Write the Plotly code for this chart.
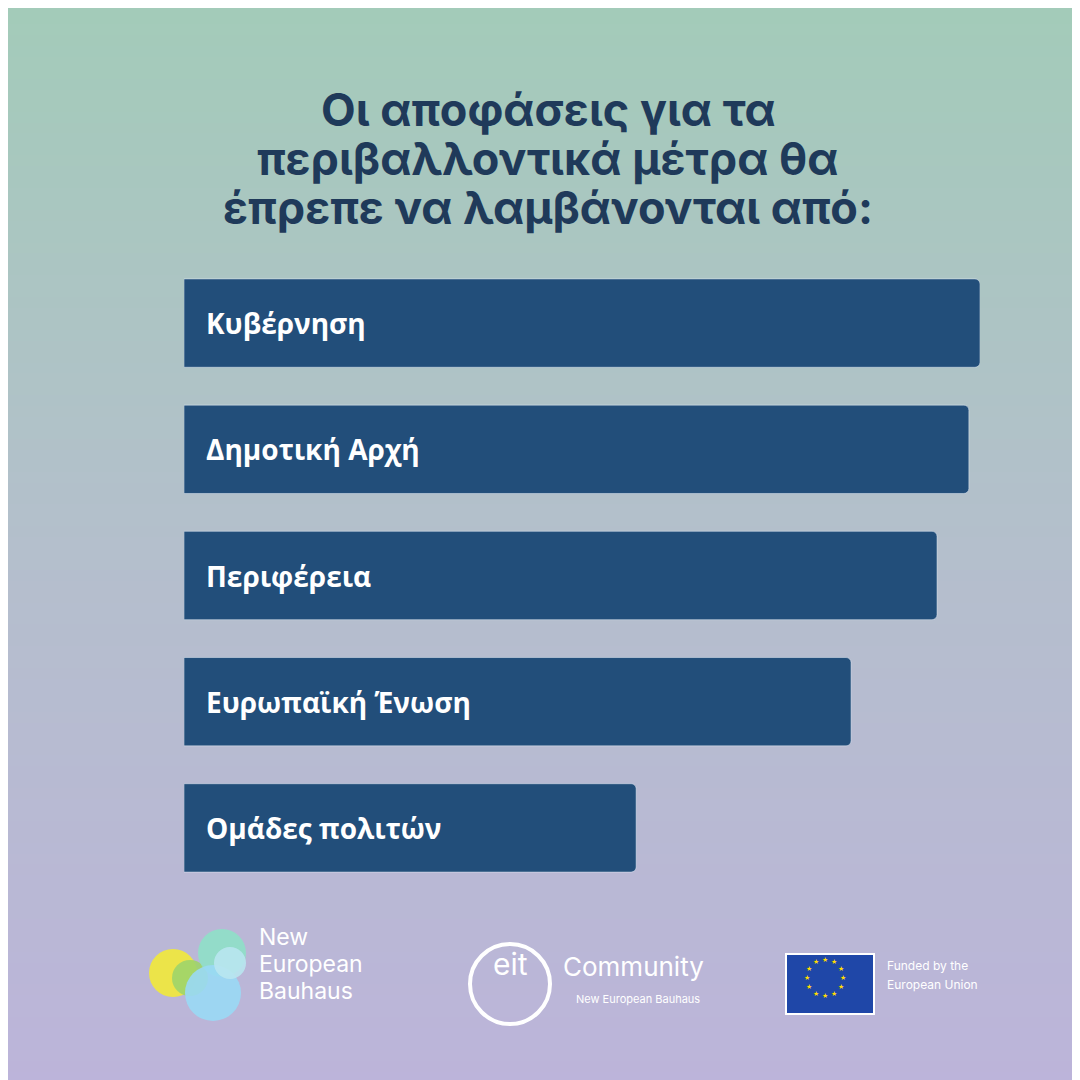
import numpy as np
import plotly.graph_objects as go

categories = ["Κυβέρνηση", "Δημοτική Αρχή", "Περιφέρεια", "Ευρωπαϊκή Ένωση", "Ομάδες πολιτών"]
values = [100, 98.6, 94.6, 83.8, 56.8]
title_lines = ["Οι αποφάσεις για τα", "περιβαλλοντικά μέτρα θα", "έπρεπε να λαμβάνονται από:"]

NAVY = "#224e7a"
TITLE = "#1f3a5a"

fig = go.Figure()

# gradient background on the full-page axes
grad = np.linspace(0, 1, 100).reshape(-1, 1)
fig.add_trace(go.Heatmap(z=grad, x=[0, 1], y=np.linspace(1, 0, 100),
                         colorscale=[[0, "#a3cbb9"], [0.5, "#b4bfcc"], [1, "#bcb4da"]],
                         showscale=False, hoverinfo="skip"))

fig.add_trace(go.Bar(x=values, y=list(range(len(categories))), orientation="h", xaxis="x2", yaxis="y2",
                     marker_color=NAVY, width=0.7, hoverinfo="skip"))

for i, c in enumerate(categories):
    fig.add_annotation(x=0, y=i, xref="x2", yref="y2", text=f"<b>{c}</b>", showarrow=False,
                       xanchor="left", xshift=20, font=dict(family="Open Sans", size=28, color="white"))

for i, line in enumerate(title_lines):
    fig.add_annotation(x=0.5, y=1 - (72 + 49 * i) / 1080, xref="paper", yref="paper",
                       text=f"<b>{line}</b>", showarrow=False,
                       font=dict(family="Inter", size=45, color=TITLE))

# logos (approximate)
for cx, cy, r, col in [(165, 965, 24, "#f2e93a"), (182, 970, 18, "#9fd46a"), (214, 945, 24, "#8fe0c8"),
                       (205, 985, 28, "#9ad9f5"), (222, 955, 16, "#b9e6f0")]:
    fig.add_shape(type="circle", xref="paper", yref="paper", x0=(cx - r) / 1080, x1=(cx + r) / 1080,
                  y0=1 - (cy + r) / 1080, y1=1 - (cy - r) / 1080, fillcolor=col, line_width=0, opacity=0.9)
for i, w in enumerate(["New", "European", "Bauhaus"]):
    fig.add_annotation(x=249 / 1080, y=1 - (945 + 27 * i) / 1080, xref="paper", yref="paper", text=w,
                       showarrow=False, xanchor="left", font=dict(family="Inter", size=23, color="white"))
fig.add_shape(type="circle", xref="paper", yref="paper", x0=462 / 1080, x1=542 / 1080,
              y0=1 - 1016 / 1080, y1=1 - 936 / 1080, line=dict(color="white", width=4))
fig.add_annotation(x=502 / 1080, y=1 - 976 / 1080, xref="paper", yref="paper", text="eit", showarrow=False,
                   font=dict(family="Inter", size=30, color="white"))
fig.add_annotation(x=553 / 1080, y=1 - 976 / 1080, xref="paper", yref="paper", text="Community", showarrow=False,
                   xanchor="left", font=dict(family="Inter", size=26, color="white"))
fig.add_annotation(x=566 / 1080, y=1 - 1000 / 1080, xref="paper", yref="paper", text="New European Bauhaus",
                   showarrow=False, xanchor="left", font=dict(family="Inter", size=11, color="white"))
fig.add_shape(type="rect", xref="paper", yref="paper", x0=778 / 1080, x1=866 / 1080,
              y0=1 - 1006 / 1080, y1=1 - 946 / 1080, fillcolor="#1f47a8", line=dict(color="white", width=2))
for a in np.linspace(0, 2 * np.pi, 13)[:-1]:
    fig.add_annotation(x=(822 + 18 * np.cos(a)) / 1080, y=1 - (976 + 18 * np.sin(a)) / 1080,
                       xref="paper", yref="paper", text="★", showarrow=False,
                       font=dict(size=7, color="#ffdd00"))
for i, w in enumerate(["Funded by the", "European Union"]):
    fig.add_annotation(x=877 / 1080, y=1 - (967 + 19 * i) / 1080, xref="paper", yref="paper", text=w,
                       showarrow=False, xanchor="left", font=dict(family="Inter", size=12, color="white"))

fig.update_layout(
    width=1080, height=1080, margin=dict(l=0, r=0, t=0, b=0), showlegend=False,
    barcornerradius=5, plot_bgcolor="rgba(0,0,0,0)", paper_bgcolor="#b4bfcc",
    xaxis=dict(domain=[0, 1], range=[0, 1], visible=False),
    yaxis=dict(domain=[0, 1], range=[0, 1], visible=False),
    xaxis2=dict(domain=[176 / 1080, 972 / 1080], range=[0, 100], visible=False, anchor="y2"),
    yaxis2=dict(domain=[1 - 883 / 1080, 1 - 252 / 1080], range=[4.5, -0.5], visible=False, anchor="x2"),
)
fig.write_html("out.html")
